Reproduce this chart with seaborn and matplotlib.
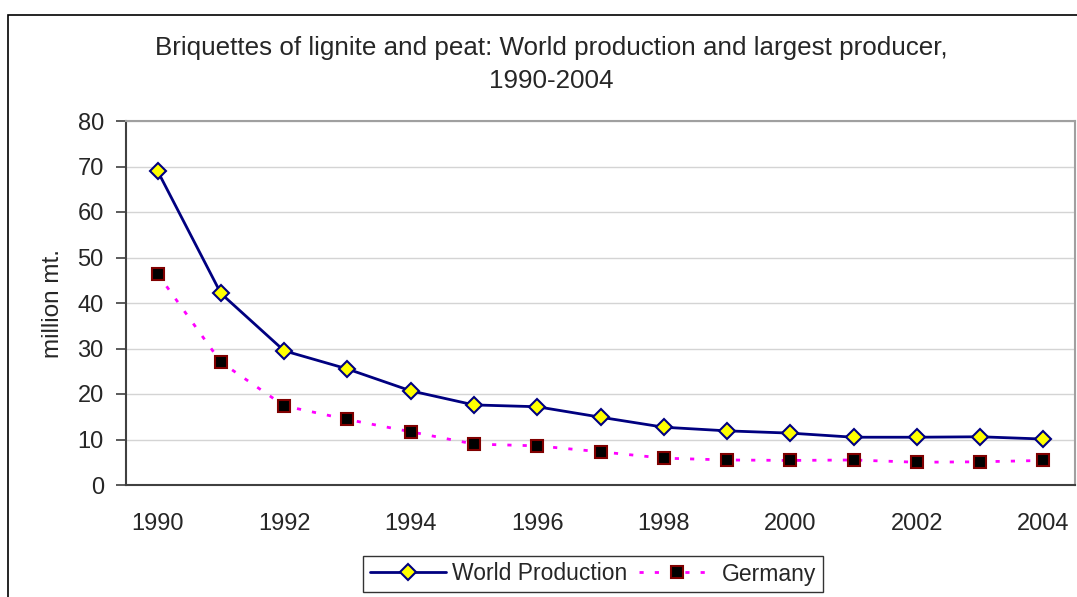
import numpy as np
import pandas as pd
import matplotlib
matplotlib.use('Agg')
import matplotlib.pyplot as plt
import seaborn as sns

years = list(range(1990, 2005))
world = [69.0, 42.1, 29.5, 25.5, 20.7, 17.6, 17.2, 14.9, 12.7, 11.9, 11.4, 10.5, 10.5, 10.6, 10.1]
germany = [46.4, 27.0, 17.4, 14.4, 11.7, 9.0, 8.6, 7.3, 5.9, 5.5, 5.4, 5.5, 5.0, 5.1, 5.4]
year_labels = [str(y) if y % 2 == 0 else '' for y in years]

df = pd.DataFrame({'idx': np.arange(len(years)), 'year': years,
                   'World Production': world, 'Germany': germany})

sns.set_style('white')
plt.rcParams['font.family'] = ['Liberation Sans', 'DejaVu Sans']

fig = plt.figure(figsize=(10.77, 5.97), dpi=100)
ax = fig.add_axes([126/1077, 1 - 485/597, (1075 - 126)/1077, (485 - 121)/597])

# frame around the chart area (cut off at right / bottom like the original)
fig.patches.append(plt.Rectangle((8/1077, -0.05), 1.2, 1 - 15/597 + 0.05,
                                 transform=fig.transFigure, fill=False,
                                 edgecolor='black', linewidth=1.2))

ax.yaxis.grid(True, color='#d4d4d4', linewidth=1)
ax.set_axisbelow(True)

sns.lineplot(data=df, x='idx', y='World Production', ax=ax, color='#000080',
             linewidth=2, marker='D', markersize=8, markerfacecolor='#ffff00',
             markeredgecolor='#000080', markeredgewidth=1.5, label='World Production')
sns.lineplot(data=df, x='idx', y='Germany', ax=ax, color='#ff00ff',
             linewidth=2, linestyle=(0, (1.5, 4)), marker='s', markersize=8.5,
             markerfacecolor='black', markeredgecolor='#800000',
             markeredgewidth=1.5, label='Germany')

ax.set_xlim(-0.5, len(years) - 0.5)
ax.set_ylim(0, 80)
ax.set_yticks(range(0, 81, 10))
ax.set_xticks(df['idx'])
ax.set_xticklabels(year_labels)
ax.set_xticks(np.arange(-0.5, len(years), 1), minor=True)
ax.tick_params(axis='x', which='major', length=0, pad=20, labelsize=17)
ax.tick_params(axis='x', which='minor', length=7, width=1.2, color='#404040', direction='out')
ax.tick_params(axis='y', length=7, width=1.2, color='#404040', direction='out',
               pad=9, labelsize=17, left=True)

for s in ['left', 'bottom']:
    ax.spines[s].set_color('#404040')
    ax.spines[s].set_linewidth(1.5)
for s in ['top', 'right']:
    ax.spines[s].set_color('#a0a0a0')
    ax.spines[s].set_linewidth(1.5)

ax.set_xlabel('')
ax.set_ylabel('million mt.', fontsize=17.5, labelpad=10)

fig.text(551/1077, 1 - 64.5/597,
         'Briquettes of lignite and peat: World production and largest producer,\n1990-2004',
         ha='center', va='center', fontsize=18.7, linespacing=1.5)

leg = ax.legend(loc='center', bbox_to_anchor=(593/1077, 1 - 574/597),
                bbox_transform=fig.transFigure, ncol=2, fontsize=16.5,
                frameon=True, fancybox=False, edgecolor='black',
                handlelength=3.3, columnspacing=0.5, handletextpad=0.3,
                borderpad=0.3, borderaxespad=0)
leg.get_frame().set_linewidth(1)

fig.savefig('out.png', dpi=100)
